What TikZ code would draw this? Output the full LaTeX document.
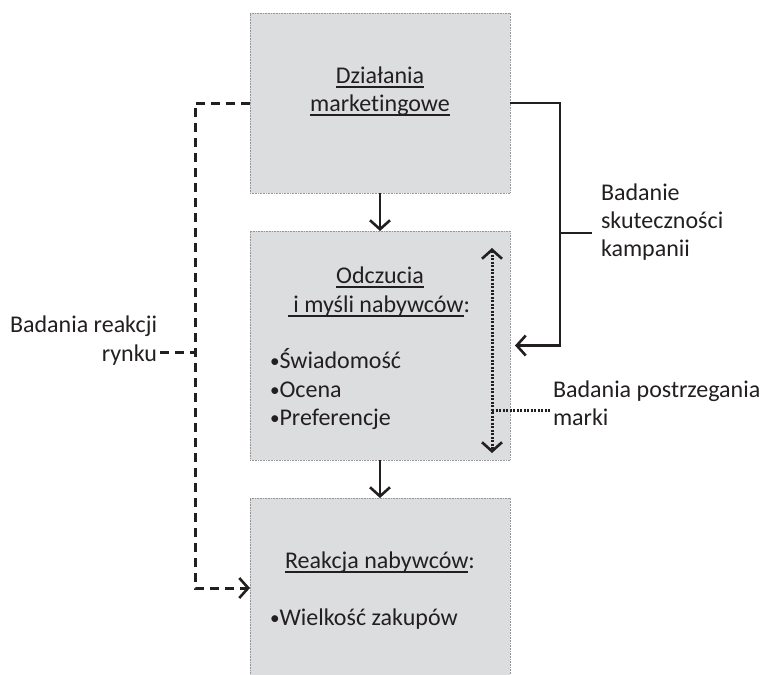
\documentclass[tikz,border=0pt]{standalone}
\usepackage{fontspec}
\setmainfont{Carlito}[Ligatures=NoCommon]
\usetikzlibrary{arrows.meta}

\definecolor{ink}{RGB}{35,31,32}
\definecolor{boxfill}{RGB}{220,221,223}
\definecolor{boxline}{RGB}{150,150,152}

% underline with a fixed offset below the baseline
\newcommand\ulin[1]{\setbox0=\hbox{#1}\rlap{\color{ink}\rule[-4.6pt]{\wd0}{1.5pt}}\box0}
% small raised bullet
\newcommand\bul{\raisebox{0.5pt}{\scalebox{0.8}{•}}}

\begin{document}
\begin{tikzpicture}[x=1pt,y=-1pt,
  every node/.style={inner sep=0pt, outer sep=0pt, text=ink,
    font=\fontsize{24}{28.5}\selectfont},
  box/.style={draw=boxline, fill=boxfill, line width=0.6pt, densely dotted,
    minimum width=260pt},
  txt/.style={anchor=base},
  lbl/.style={anchor=base west},
  tip/.style={-{Straight Barb[length=9pt,width=20pt,line width=2.6pt]}},
  solidline/.style={draw=ink, line width=2.9pt},
  dashline/.style={draw=ink, line width=3pt, dash pattern=on 9pt off 6pt},
  dotline/.style={draw=ink, line width=3pt, dash pattern=on 2pt off 1.5pt},
]
\useasboundingbox (0,0) rectangle (761,675);

% the three stages
\node[box, minimum height=180pt] (m1) at (380,103) {};
\node[box, minimum height=229pt] (m2) at (380,345.5) {};
\node[box, minimum height=180pt] (m3) at (380,588) {};

% stage texts
\node[txt] (t1a) at (380,83) {\ulin{Działania}};
\node[txt] (t1b) at (380,111) {\ulin{marketingowe}};

\node[txt] (t2a) at (380,283) {\ulin{Odczucia}};
\node[txt] (t2b) at (379,312) {\ulin{ i myśli nabywców}:};
\node[lbl] (t2c) at (270,368) {\bul Świadomość};
\node[lbl] (t2d) at (270,397) {\bul Ocena};
\node[lbl] (t2e) at (270,425) {\bul Preferencje};

\node[txt] (t3a) at (380,568) {\ulin{Reakcja nabywców}:};
\node[lbl] (t3b) at (270,625) {\bul Wielkość zakupów};

% side labels
\node[anchor=base east] (r1) at (157,332) {Badania reakcji};
\node[anchor=base east] (r2) at (157,361) {rynku};

\node[lbl] (k1) at (601,200) {Badanie};
\node[lbl] (k2) at (601,228) {skuteczności};
\node[lbl] (k3) at (601,256) {kampanii};

\node[lbl] (p1) at (553,397) {Badania postrzegania};
\node[lbl] (p2) at (553,425) {marki};

% main flow
\draw[solidline, tip] (m1.south) -- (m2.north);
\draw[solidline, tip] (m2.south) -- (m3.north);

% market reaction research loop
\coordinate (dl) at (195,103);
\coordinate (dm) at (195,352);
\draw[dashline, tip] (m1.west) -- (dl) |- (m3.west);
\draw[dashline] (r2.east |- dm) ++(3,0) -- (dm);

% campaign effectiveness loop
\coordinate (sr) at (560,345.5);
\coordinate (sb) at (560,233);
\coordinate (se) at (592,233);
\draw[solidline, tip] (m1.east) -| (sr) -- ([xshift=5pt]m2.east);
\draw[solidline] (sb) -- (se);

% brand perception research
\coordinate (pa) at (492,248);
\coordinate (pb) at (492,453);
\coordinate (pc) at (492,410);
\coordinate (pd) at (550,410);
\draw[dotline, {Straight Barb[length=9pt,width=20pt,line width=2.6pt]}-{Straight Barb[length=9pt,width=20pt,line width=2.6pt]}] (pa) -- (pb);
\draw[dotline] (pc) -- (pd);
\end{tikzpicture}
\end{document}
